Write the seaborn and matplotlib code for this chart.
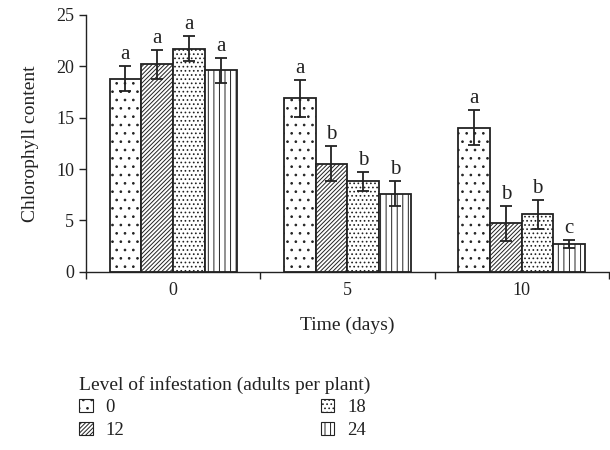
import numpy as np
import pandas as pd
import matplotlib
matplotlib.use("Agg")
import matplotlib.pyplot as plt
import seaborn as sns
from matplotlib.patches import Patch

days = ["0", "5", "10"]
levels = ["0", "12", "18", "24"]
means = {
    "0":  [18.8, 16.9, 14.0],
    "12": [20.2, 10.5, 4.7],
    "18": [21.7, 8.8, 5.6],
    "24": [19.6, 7.6, 2.7],
}
errors = {
    "0":  [1.2, 1.8, 1.7],
    "12": [1.4, 1.7, 1.7],
    "18": [1.2, 0.9, 1.4],
    "24": [1.2, 1.2, 0.35],
}
letters = {
    "0":  ["a", "a", "a"],
    "12": ["a", "b", "b"],
    "18": ["a", "b", "b"],
    "24": ["a", "b", "c"],
}
hatches = {"0": "..", "12": "////////", "18": "....", "24": "|||"}

sns.set_theme(style="ticks")
plt.rcParams["font.family"] = ["Liberation Serif", "DejaVu Serif"]
plt.rcParams["hatch.linewidth"] = 0.7

rows = []
for lv in levels:
    for d, v in zip(days, means[lv]):
        rows.append({"Time": d, "Level": lv, "Value": v})
df = pd.DataFrame(rows)

INK = "#222222"
fig = plt.figure(figsize=(6.1, 4.5), dpi=100)
ax = fig.add_axes([0.141, 0.396, 0.857, 0.571])

sns.barplot(data=df, x="Time", y="Value", hue="Level", order=days,
            hue_order=levels, errorbar=None, width=0.73, ax=ax,
            palette=["white"] * 4, edgecolor=INK,
            linewidth=1.3, legend=False, saturation=1)

for lv, cont in zip(levels, ax.containers):
    xs = []
    for bar in cont:
        bar.set_hatch(hatches[lv])
        bar.set_facecolor("white")
        bar.set_edgecolor(INK)
        xs.append(bar.get_x() + bar.get_width() / 2)
    ax.errorbar(xs, means[lv], yerr=errors[lv], fmt="none", ecolor=INK,
                elinewidth=1.3, capsize=4, capthick=1.3)
    for x, m, e, t in zip(xs, means[lv], errors[lv], letters[lv]):
        ax.text(x, m + e + 0.2, t, ha="center", va="bottom", fontsize=15,
                color=INK)

ax.set_ylim(0, 25)
ax.set_yticks([0, 5, 10, 15, 20, 25])
ax.set_xlim(-0.5, 2.5)
ax.set_xticks([0, 1, 2])
ax.set_xticklabels(days)
ax.tick_params(axis="x", length=0, labelsize=13, pad=7, colors=INK)
ax.tick_params(axis="y", length=5, labelsize=13, width=1, colors=INK)
ax.set_xticks([-0.5, 0.5, 1.5, 2.5], minor=True)
ax.tick_params(axis="x", which="minor", length=5, width=1, color=INK,
               direction="out")
sns.despine(ax=ax)
for s in ["left", "bottom"]:
    ax.spines[s].set_color(INK)
    ax.spines[s].set_linewidth(1)
ax.set_xlabel("Time (days)", fontsize=14, color=INK, labelpad=13)
ax.set_ylabel("Chlorophyll content", fontsize=14, color=INK, labelpad=12)

handles = [Patch(facecolor="white", edgecolor=INK, hatch=hatches[lv],
                 linewidth=0.8) for lv in levels]
leg = fig.legend(handles, levels, title="Level of infestation (adults per plant)",
                 loc="upper left", bbox_to_anchor=(0.118, 0.182), ncol=2,
                 frameon=False, fontsize=13.5, title_fontsize=14,
                 handlelength=0.7, handleheight=0.7, handletextpad=0.7,
                 columnspacing=10.5, labelspacing=0.3, alignment="left",
                 borderaxespad=0)
for t in leg.get_texts():
    t.set_color(INK)
leg.get_title().set_color(INK)

fig.savefig("out.png", dpi=100)
